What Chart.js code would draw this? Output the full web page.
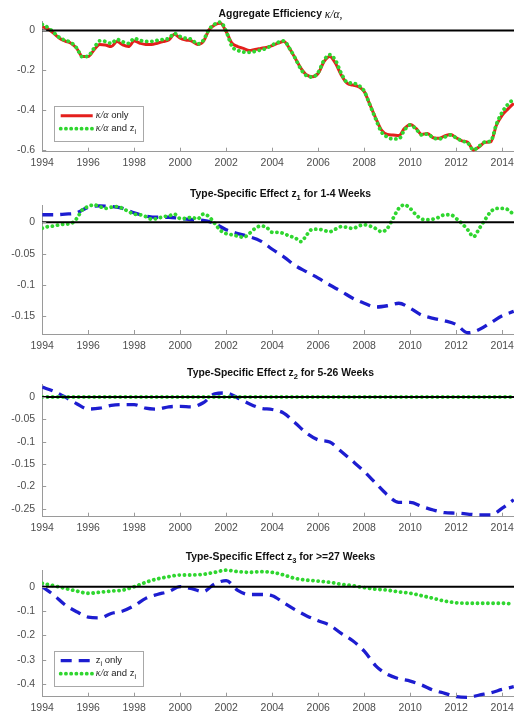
<!DOCTYPE html>
<html>
<head>
<meta charset="utf-8">
<script src="https://cdn.jsdelivr.net/npm/chart.js@4.4.1/dist/chart.umd.min.js"></script>
<style>
  html, body { margin: 0; padding: 0; background: #fff; }
  #wrap { position: relative; width: 514px; height: 721px; overflow: hidden; background: #fff; }
  .panel { position: absolute; left: 0; width: 514px; }
  canvas { display: block; }
</style>
</head>
<body>
<div id="wrap">
  <div class="panel" style="top:0px;height:180px"><canvas id="effChart" width="514" height="180"></canvas></div>
  <div class="panel" style="top:180px;height:180px"><canvas id="z1Chart" width="514" height="180"></canvas></div>
  <div class="panel" style="top:360px;height:180px"><canvas id="z2Chart" width="514" height="180"></canvas></div>
  <div class="panel" style="top:540px;height:181px"><canvas id="z3Chart" width="514" height="181"></canvas></div>
</div>
<script>
// ---- sample dates ----
const quarters = [1994,1994.25,1994.5,1994.75,1995,1995.25,1995.5,1995.75,1996,1996.25,1996.5,1996.75,
  1997,1997.25,1997.5,1997.75,1998,1998.25,1998.5,1998.75,1999,1999.25,1999.5,1999.75,
  2000,2000.25,2000.5,2000.75,2001,2001.25,2001.5,2001.75,2002,2002.25,2002.5,2002.75,
  2003,2003.25,2003.5,2003.75,2004,2004.25,2004.5,2004.75,2005,2005.25,2005.5,2005.75,
  2006,2006.25,2006.5,2006.75,2007,2007.25,2007.5,2007.75,2008,2008.25,2008.5,2008.75,
  2009,2009.25,2009.5,2009.75,2010,2010.25,2010.5,2010.75,2011,2011.25,2011.5,2011.75,
  2012,2012.25,2012.5,2012.75,2013,2013.25,2013.5,2013.75,2014,2014.25,2014.5];
const halfYears = [1994,1994.5,1995,1995.5,1996,1996.5,1997,1997.5,1998,1998.5,1999,1999.5,
  2000,2000.5,2001,2001.5,2002,2002.5,2003,2003.5,2004,2004.5,2005,2005.5,2006,2006.5,
  2007,2007.5,2008,2008.5,2009,2009.5,2010,2010.5,2011,2011.5,2012,2012.5,2013,2013.5,2014,2014.5];

// ---- axis ticks ----
const yearTicks = [1994,1996,1998,2000,2002,2004,2006,2008,2010,2012,2014];
const effTicks = [0,-0.2,-0.4,-0.6];
const effTickLabels = ['0','-0.2','-0.4','-0.6'];
const z1Ticks = [0,-0.05,-0.1,-0.15];
const z1TickLabels = ['0','-0.05','-0.1','-0.15'];
const z2Ticks = [0,-0.05,-0.1,-0.15,-0.2,-0.25];
const z2TickLabels = ['0','-0.05','-0.1','-0.15','-0.2','-0.25'];
const z3Ticks = [0,-0.1,-0.2,-0.3,-0.4];
const z3TickLabels = ['0','-0.1','-0.2','-0.3','-0.4'];

// ---- aggregate efficiency (quarterly) ----
const effAlphaOnly = [0.019,0.008,-0.014,-0.039, -0.053,-0.064,-0.090,-0.131, -0.131,-0.098,-0.070,-0.073,
  -0.081,-0.056,-0.073,-0.081, -0.053,-0.064,-0.070,-0.070, -0.064,-0.056,-0.048,-0.019,
  -0.039,-0.048,-0.053,-0.070, -0.056,0.003,0.028,0.036, -0.006,-0.064,-0.081,-0.090,
  -0.101,-0.095,-0.090,-0.085, -0.076,-0.064,-0.056,-0.090, -0.140,-0.190,-0.224,-0.232,
  -0.215,-0.157,-0.131,-0.165, -0.224,-0.265,-0.274,-0.282, -0.307,-0.374,-0.441,-0.500,
  -0.522,-0.525,-0.528,-0.492, -0.472,-0.492,-0.522,-0.517, -0.539,-0.542,-0.530,-0.522,
  -0.539,-0.555,-0.562,-0.600, -0.584,-0.562,-0.559,-0.475, -0.425,-0.394,-0.366];
const effAlphaAndZ = [0.030,0.015,-0.010,-0.035, -0.050,-0.060,-0.088,-0.133, -0.128,-0.090,-0.052,-0.055,
  -0.065,-0.045,-0.057,-0.065, -0.040,-0.050,-0.055,-0.055, -0.050,-0.045,-0.040,-0.015,
  -0.030,-0.040,-0.045,-0.068, -0.050,0.005,0.032,0.042, -0.005,-0.080,-0.100,-0.108,
  -0.110,-0.105,-0.098,-0.090, -0.073,-0.060,-0.052,-0.090, -0.140,-0.195,-0.228,-0.234,
  -0.210,-0.150,-0.122,-0.150, -0.215,-0.260,-0.265,-0.275, -0.305,-0.375,-0.445,-0.510,
  -0.535,-0.545,-0.545,-0.500, -0.475,-0.495,-0.525,-0.520, -0.540,-0.545,-0.535,-0.525,
  -0.540,-0.555,-0.565,-0.600, -0.580,-0.560,-0.555,-0.470, -0.410,-0.370,-0.345];

// ---- z1: 1-4 weeks ----
const z1Only = [0.012,0.012,0.013,0.015,0.024,0.026,0.025,0.022,0.015,0.010,0.008,0.008,
  0.006,0.004,0.003,-0.002,-0.012,-0.018,-0.023,-0.030,-0.043,-0.055,-0.069,-0.079,
  -0.089,-0.100,-0.110,-0.121,-0.129,-0.135,-0.133,-0.129,-0.137,-0.148,-0.153,-0.157,
  -0.163,-0.176,-0.171,-0.160,-0.149,-0.142];
const z1AlphaAndZ = [-0.0096,-0.007,-0.006,-0.004, -0.003,-0.002,0.006,0.020, 0.025,0.028,0.025,0.022,
  0.024,0.025,0.022,0.017, 0.013,0.012,0.009,0.005, 0.006,0.009,0.010,0.013,
  0.006,0.006,0.008,0.005, 0.013,0.009,-0.002,-0.013, -0.018,-0.020,-0.022,-0.024,
  -0.018,-0.010,-0.006,-0.008, -0.016,-0.016,-0.018,-0.022, -0.025,-0.031,-0.020,-0.011,
  -0.011,-0.013,-0.015,-0.011, -0.007,-0.008,-0.010,-0.006, -0.004,-0.006,-0.010,-0.015,
  -0.010,0.006,0.022,0.028, 0.022,0.012,0.005,0.004, 0.005,0.008,0.012,0.012,
  0.006,-0.002,-0.012,-0.023, -0.010,0.004,0.017,0.022, 0.022,0.020,0.012];

// ---- z2: 5-26 weeks ----
const z2Only = [0.022,0.013,0.000,-0.015,-0.027,-0.025,-0.019,-0.017,-0.017,-0.025,-0.027,-0.022,
  -0.021,-0.022,-0.013,0.007,0.009,-0.002,-0.015,-0.025,-0.028,-0.036,-0.058,-0.081,
  -0.096,-0.101,-0.122,-0.144,-0.167,-0.193,-0.219,-0.236,-0.236,-0.245,-0.253,-0.259,
  -0.260,-0.262,-0.264,-0.264,-0.249,-0.230];
const z2AlphaAndZ = [0,0,0,0,0,0,0,0,0,0,0,0,0,0,0,0,0,0,0,0,0,0,0,0,0,0,0,0,0,0,0,0,0,0,0,0,0,0,0,0,0,0];

// ---- z3: 27+ weeks ----
const z3Only = [0.000,-0.034,-0.075,-0.103,-0.125,-0.128,-0.110,-0.100,-0.078,-0.048,-0.032,-0.020,
  0.000,-0.008,-0.020,0.012,0.025,-0.015,-0.032,-0.032,-0.037,-0.066,-0.095,-0.120,
  -0.140,-0.158,-0.192,-0.222,-0.265,-0.325,-0.360,-0.378,-0.388,-0.404,-0.425,-0.438,
  -0.452,-0.455,-0.445,-0.436,-0.422,-0.411];
const z3AlphaAndZ = [0.014,0.004,-0.007,-0.018,-0.027,-0.023,-0.018,-0.014,0.000,0.018,0.032,0.041,
  0.048,0.048,0.051,0.059,0.068,0.062,0.059,0.062,0.059,0.048,0.034,0.027,
  0.023,0.018,0.010,0.004,-0.004,-0.010,-0.014,-0.021,-0.027,-0.037,-0.048,-0.059,
  -0.066,-0.068,-0.068,-0.068,-0.068,-0.071];

// ---- styling ----
const RED = '#e41f1c', GREEN = '#2fd62f', BLUE = '#1d1dd0';
const SANS = '"Liberation Sans", Arial, sans-serif';
const SERIF = '"Liberation Serif", "Times New Roman", serif';
const AXIS_GREY = '#9a9a9a', LABEL_GREY = '#4e4e4e';

const solidStyle = { borderColor: RED, borderWidth: 3, borderCapStyle: 'butt', borderDash: [] };
const dotStyle = { borderColor: GREEN, borderWidth: 3.8, borderCapStyle: 'round', borderDash: [0.1, 5.1] };
const dashStyle = { borderColor: BLUE, borderWidth: 3.3, borderCapStyle: 'butt', borderDash: [11, 7] };

const toPoints = (xs, ys) => xs.map((x, i) => ({ x, y: ys[i] }));

function series(label, xs, ys, style, order) {
  return Object.assign({
    label, data: toPoints(xs, ys), order,
    pointRadius: 0, fill: false, cubicInterpolationMode: 'monotone',
    clip: { left: 0, top: 5, right: 0, bottom: 5 }
  }, style);
}

// draws a run of text pieces with their own fonts / vertical shifts
function drawRich(ctx, pieces, x, y, align) {
  let total = 0;
  pieces.forEach(p => { ctx.font = p.f; p.w = ctx.measureText(p.t).width; total += p.w; });
  let cx = align === 'center' ? x - total / 2 : x;
  ctx.textBaseline = 'middle';
  ctx.textAlign = 'left';
  pieces.forEach(p => { ctx.font = p.f; ctx.fillText(p.t, cx, y + (p.dy || 0)); cx += p.w; });
}

function strokeSample(ctx, style, x0, x1, y) {
  ctx.save();
  ctx.strokeStyle = style.borderColor;
  ctx.lineWidth = style.borderWidth;
  ctx.lineCap = style.borderCapStyle;
  ctx.setLineDash(style.borderDash);
  ctx.beginPath(); ctx.moveTo(x0, y); ctx.lineTo(x1, y); ctx.stroke();
  ctx.restore();
}

const panelDecor = {
  id: 'panelDecor',
  afterDatasetsDraw(chart) {
    const { ctx, chartArea: a, scales: { y } } = chart;
    const y0 = y.getPixelForValue(0);
    ctx.save();
    ctx.strokeStyle = '#000';
    ctx.lineWidth = 2;
    ctx.beginPath(); ctx.moveTo(a.left, y0); ctx.lineTo(a.right, y0); ctx.stroke();
    ctx.restore();
  },
  afterDraw(chart, args, opts) {
    const { ctx, chartArea: a, scales: { x, y } } = chart;
    ctx.save();
    // inward tick marks
    ctx.strokeStyle = AXIS_GREY; ctx.lineWidth = 1;
    ctx.beginPath();
    x.ticks.forEach(t => { const px = Math.round(x.getPixelForValue(t.value)) + 0.5; ctx.moveTo(px, a.bottom); ctx.lineTo(px, a.bottom - 4); });
    y.ticks.forEach(t => { const py = Math.round(y.getPixelForValue(t.value)) + 0.5; ctx.moveTo(a.left, py); ctx.lineTo(a.left + 4, py); });
    ctx.stroke();
    // panel title
    ctx.fillStyle = '#111';
    drawRich(ctx, opts.title, opts.titleX, opts.titleY, 'center');
    // legend box
    if (opts.legend) {
      const bx = a.left + 11.5, bw = 89, bh = 35, by = a.bottom - 10.5 - bh;
      ctx.fillStyle = '#fff';
      ctx.fillRect(bx, by, bw, bh);
      ctx.strokeStyle = '#a8a8a8'; ctx.lineWidth = 1;
      ctx.strokeRect(Math.round(bx) + 0.5, Math.round(by) + 0.5, bw, bh);
      opts.legend.forEach((item, i) => {
        const ly = by + 9.5 + i * 13;
        strokeSample(ctx, item.style, bx + 7, bx + 39, ly);
        ctx.fillStyle = '#222';
        drawRich(ctx, item.text, bx + 42, ly, 'left');
      });
    }
    ctx.restore();
  }
};

function makePanel(id, cfg) {
  const tickFont = { family: SANS, size: 10.5 };
  new Chart(document.getElementById(id), {
    type: 'line',
    data: { datasets: cfg.datasets },
    plugins: [panelDecor],
    options: {
      responsive: false,
      animation: false,
      events: [],
      layout: { autoPadding: false, padding: { top: cfg.padTop, left: 0, right: 0, bottom: 0 } },
      plugins: {
        legend: { display: false },
        title: { display: false },
        tooltip: { enabled: false },
        panelDecor: { title: cfg.title, titleX: 280.5, titleY: cfg.titleY, legend: cfg.legend }
      },
      scales: {
        x: {
          type: 'linear', min: 1994, max: 2014.51,
          afterBuildTicks: s => { s.ticks = yearTicks.map(v => ({ value: v })); },
          afterFit: s => { s.height = cfg.xAxisHeight; s.paddingLeft = 0; s.paddingRight = 0; },
          ticks: { font: tickFont, color: LABEL_GREY, padding: 5.5, maxRotation: 0, autoSkip: false, callback: v => String(v) },
          grid: { drawOnChartArea: false, drawTicks: false },
          border: { display: true, color: AXIS_GREY, width: 1 }
        },
        y: {
          type: 'linear', min: cfg.yMin, max: cfg.yMax,
          afterBuildTicks: s => { s.ticks = cfg.yTicks.map(v => ({ value: v })); },
          afterFit: s => { s.width = 42.2; s.paddingTop = 0; s.paddingBottom = 0; },
          ticks: { font: tickFont, color: LABEL_GREY, padding: 7, autoSkip: false,
                   callback: v => cfg.yTickLabels[cfg.yTicks.indexOf(v)] },
          grid: { drawOnChartArea: false, drawTicks: false },
          border: { display: true, color: AXIS_GREY, width: 1 }
        }
      }
    }
  });
}

const titleBold = `bold 10.4px ${SANS}`;
const subBold = `bold 7.5px ${SANS}`;
const mathTitle = `italic 11.5px ${SERIF}`;
const legendSans = `9.5px ${SANS}`;
const legendMath = `italic 10px ${SERIF}`;
const legendSub = `7px ${SANS}`;

const alphaAndZText = [
  { t: 'κ/α', f: legendMath }, { t: ' and z', f: legendSans }, { t: 'i', f: legendSub, dy: 3 }
];

makePanel('effChart', {
  padTop: 21.7, xAxisHeight: 28.3, yMin: -0.609, yMax: 0.044,
  yTicks: effTicks, yTickLabels: effTickLabels, titleY: 14.5,
  title: [{ t: 'Aggregate Efficiency ', f: titleBold }, { t: 'κ/α,', f: mathTitle }],
  datasets: [
    series('κ/α only', quarters, effAlphaOnly, solidStyle, 2),
    series('κ/α and z_i', quarters, effAlphaAndZ, dotStyle, 1)
  ],
  legend: [
    { style: solidStyle, text: [{ t: 'κ/α', f: legendMath }, { t: ' only', f: legendSans }] },
    { style: dotStyle, text: alphaAndZText }
  ]
});

makePanel('z1Chart', {
  padTop: 25, xAxisHeight: 26, yMin: -0.178, yMax: 0.0275,
  yTicks: z1Ticks, yTickLabels: z1TickLabels, titleY: 14.5,
  title: [{ t: 'Type-Specific Effect z', f: titleBold }, { t: '1', f: subBold, dy: 3 }, { t: ' for 1-4 Weeks', f: titleBold }],
  datasets: [
    series('z_i only', halfYears, z1Only, dashStyle, 2),
    series('κ/α and z_i', quarters, z1AlphaAndZ, dotStyle, 1)
  ]
});

makePanel('z2Chart', {
  padTop: 24.5, xAxisHeight: 23.3, yMin: -0.268, yMax: 0.028,
  yTicks: z2Ticks, yTickLabels: z2TickLabels, titleY: 13.5,
  title: [{ t: 'Type-Specific Effect z', f: titleBold }, { t: '2', f: subBold, dy: 3 }, { t: ' for 5-26 Weeks', f: titleBold }],
  datasets: [
    series('z_i only', halfYears, z2Only, dashStyle, 2),
    series('κ/α and z_i', halfYears, z2AlphaAndZ, dotStyle, 1)
  ]
});

makePanel('z3Chart', {
  padTop: 30, xAxisHeight: 24.3, yMin: -0.452, yMax: 0.0686,
  yTicks: z3Ticks, yTickLabels: z3TickLabels, titleY: 17.5,
  title: [{ t: 'Type-Specific Effect z', f: titleBold }, { t: '3', f: subBold, dy: 3 }, { t: ' for >=27 Weeks', f: titleBold }],
  datasets: [
    series('z_i only', halfYears, z3Only, dashStyle, 2),
    series('κ/α and z_i', halfYears, z3AlphaAndZ, dotStyle, 1)
  ],
  legend: [
    { style: dashStyle, text: [{ t: 'z', f: legendSans }, { t: 'i', f: legendSub, dy: 3 }, { t: ' only', f: legendSans }] },
    { style: dotStyle, text: alphaAndZText }
  ]
});
</script>
</body>
</html>
